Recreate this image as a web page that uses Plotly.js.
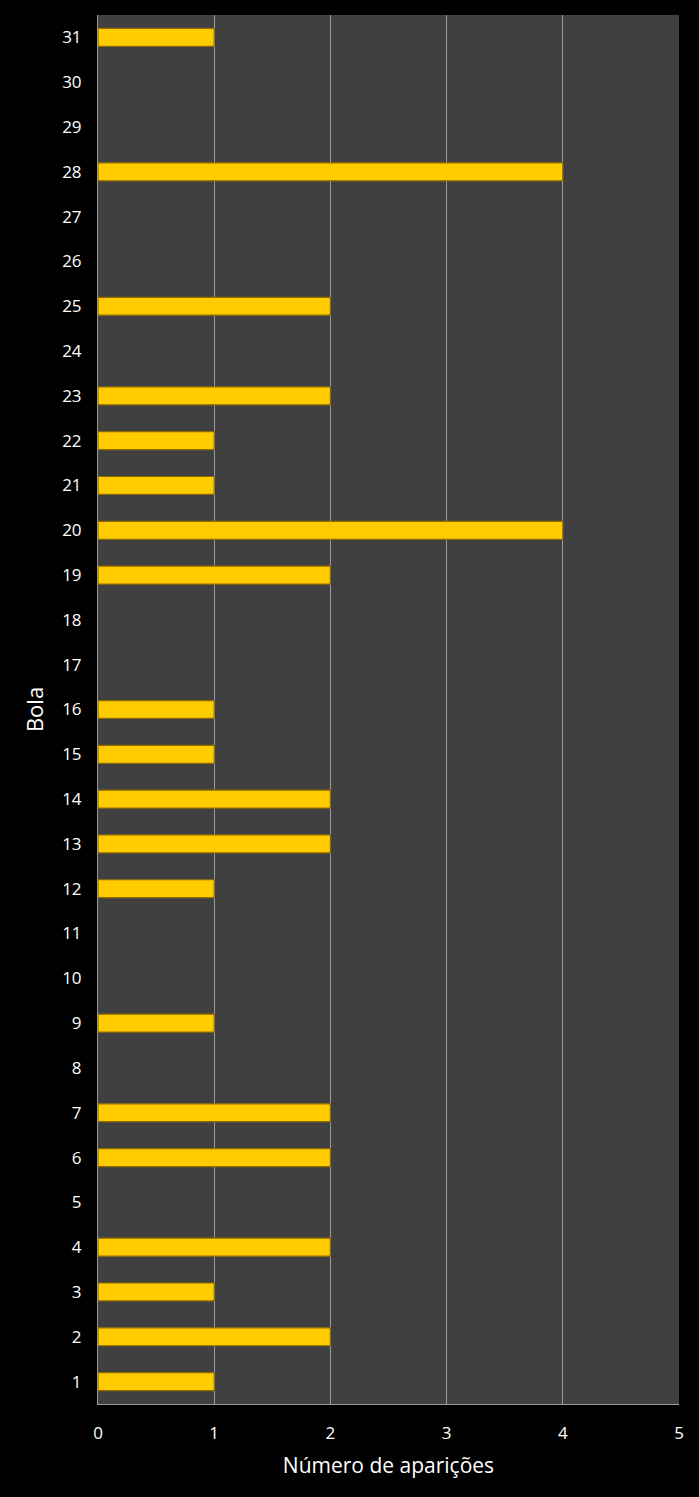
<!DOCTYPE html>
<html><head><meta charset="utf-8">
<script src="https://cdn.plot.ly/plotly-3.0.1.min.js"></script>
<style>html,body{margin:0;padding:0;background:#000;}</style>
</head><body>
<div id="chart" style="width:699px;height:1497px;"></div>
<script>
const bolas = ['1','2','3','4','5','6','7','8','9','10','11','12','13','14','15','16','17','18','19','20','21','22','23','24','25','26','27','28','29','30','31'];
const aparicoes = [1,2,1,2,0,2,2,0,1,0,0,1,2,2,1,1,0,0,2,4,1,1,2,0,2,0,0,4,0,0,1];
const xTicks = [0,1,2,3,4,5];

const trace = {
  type: 'bar', orientation: 'h',
  y: bolas, x: aparicoes,
  width: 0.4,
  marker: {color: '#FFCC00', line: {color: '#8E6C00', width: aparicoes.map(v => v > 0 ? 1.2 : 0)}},
  hoverinfo: 'x+y'
};
const layout = {
  width: 699, height: 1497,
  margin: {l: 98, r: 20, t: 15, b: 93},
  paper_bgcolor: '#000000',
  plot_bgcolor: '#404040',
  font: {family: 'Open Sans, sans-serif', color: '#ffffff', size: 16},
  showlegend: false,
  xaxis: {
    range: [0, 5], tickvals: xTicks, ticktext: xTicks.map(String),
    showgrid: true, gridcolor: '#9a9a9a', gridwidth: 1,
    zeroline: false, showline: true, linecolor: '#9a9a9a', linewidth: 1,
    ticks: '', ticklen: 0, ticklabelstandoff: 14,
    tickfont: {size: 17, color: '#ffffff'},
    title: {text: 'Número de aparições', font: {size: 21, color: '#ffffff'}, standoff: 14},
    fixedrange: true
  },
  yaxis: {
    type: 'category', categoryorder: 'array', categoryarray: bolas,
    showgrid: false, zeroline: false, showline: true, linecolor: '#9a9a9a', linewidth: 1,
    ticks: '', tickfont: {size: 17, color: '#ffffff'}, ticklabelstandoff: 12,
    title: {text: 'Bola', font: {size: 22, color: '#ffffff'}, standoff: 12},
    range: [-0.5, 30.5], fixedrange: true
  }
};
Plotly.newPlot('chart', [trace], layout, {displayModeBar: false, staticPlot: true});
</script>
</body></html>
